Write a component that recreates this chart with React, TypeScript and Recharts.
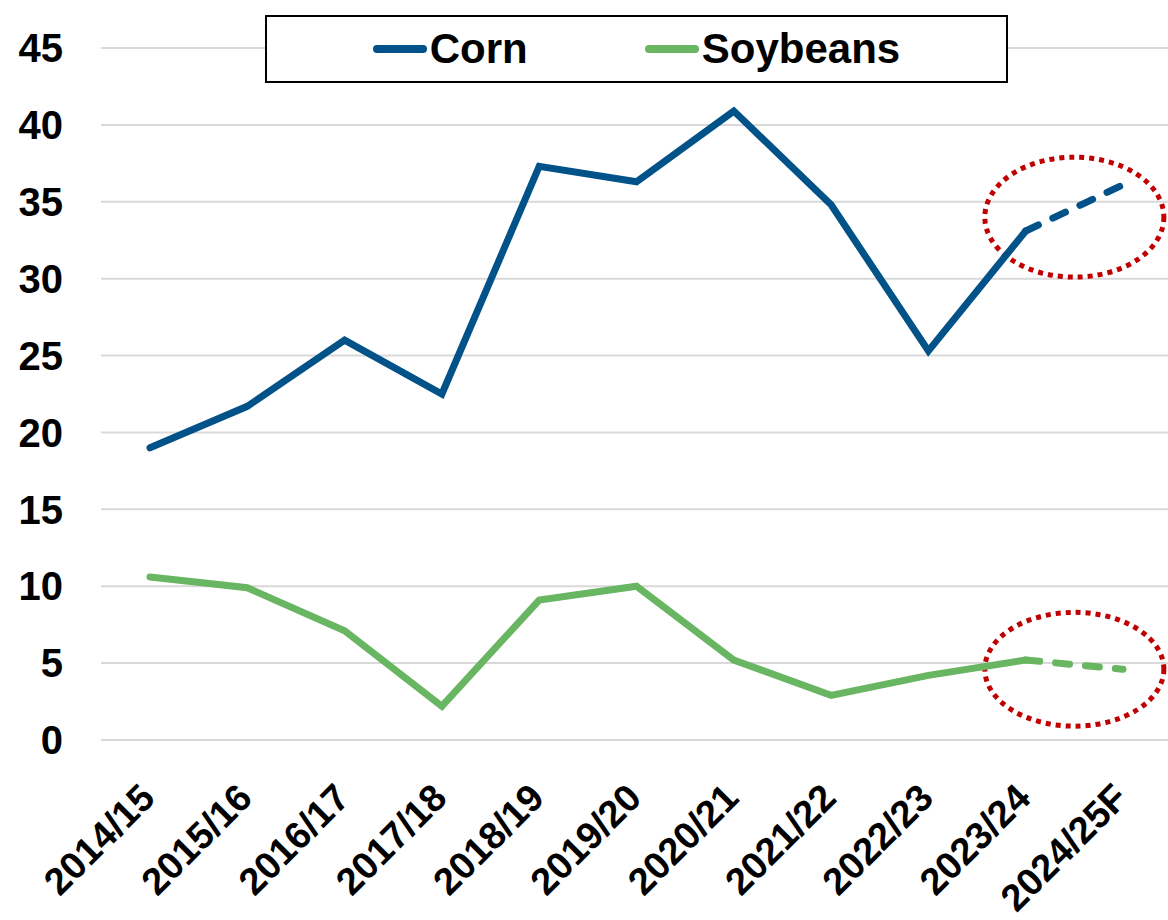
import React from 'react';
import { LineChart, Line, XAxis, YAxis, CartesianGrid, Legend, ReferenceArea } from 'recharts';

const seasons = [
  '2014/15', '2015/16', '2016/17', '2017/18', '2018/19', '2019/20',
  '2020/21', '2021/22', '2022/23', '2023/24', '2024/25F',
];

// reported values, last season is the forecast (dashed part)
const cornActual = [19.0, 21.7, 26.0, 22.5, 37.3, 36.3, 40.9, 34.8, 25.3, 33.1, null];
const cornForecast = [null, null, null, null, null, null, null, null, null, 33.1, 36.1];
const soyActual = [10.6, 9.9, 7.1, 2.2, 9.1, 10.0, 5.2, 2.9, 4.2, 5.2, null];
const soyForecast = [null, null, null, null, null, null, null, null, null, 5.2, 4.6];

const yTicks = [0, 5, 10, 15, 20, 25, 30, 35, 40, 45];

// highlighted forecast zones: [fromSeason, toSeason, yLow, yHigh]
const cornZone = ['2023/24', '2024/25F', 30.1, 37.9];
const soyZone = ['2023/24', '2024/25F', 0.9, 8.3];

const legendItems = [
  { name: 'Corn', color: '#005288' },
  { name: 'Soybeans', color: '#68b562' },
];

const data = seasons.map((season, i) => ({
  season,
  cornActual: cornActual[i],
  cornForecast: cornForecast[i],
  soyActual: soyActual[i],
  soyForecast: soyForecast[i],
}));

const FONT = '"Liberation Sans", Arial, sans-serif';

const SeasonTick = (props: any) => {
  const { x, y, payload } = props;
  return (
    <g transform={`translate(${x + 7},${y + 60}) rotate(-45)`}>
      <text x={0} y={0} textAnchor="end" fontFamily={FONT} fontWeight="bold" fontSize={38} fill="#000">
        {payload.value}
      </text>
    </g>
  );
};

const Ellipse = (props: any) => {
  const { x, y, width, height } = props;
  return (
    <ellipse
      cx={x + width / 2}
      cy={y + height / 2}
      rx={width * 0.92}
      ry={height / 2}
      fill="none"
      stroke="#c00000"
      strokeWidth={5}
      strokeDasharray="5 5"
    />
  );
};

const renderLegend = () => (
  <div
    style={{
      width: 743,
      height: 68,
      boxSizing: 'border-box',
      border: '2.5px solid #000',
      background: '#fff',
      display: 'flex',
      alignItems: 'center',
      justifyContent: 'center',
      gap: 117,
      fontFamily: FONT,
      fontWeight: 'bold',
      fontSize: 42,
      color: '#000',
    }}
  >
    {legendItems.map((item) => (
      <div key={item.name} style={{ display: 'flex', alignItems: 'center' }}>
        <span
          style={{
            display: 'inline-block',
            width: 54,
            height: 8,
            borderRadius: 4,
            background: item.color,
            marginRight: 3,
          }}
        />
        <span style={{ lineHeight: '48px' }}>{item.name}</span>
      </div>
    ))}
  </div>
);

export default function App() {
  return (
    <div style={{ position: 'absolute', left: 0, top: 0, width: 1168, height: 920, background: '#fff' }}>
      <LineChart width={1168} height={920} data={data} margin={{ top: 48, right: 0, bottom: 0, left: 0 }}>
        <CartesianGrid vertical={false} stroke="#d9d9d9" strokeWidth={2} />
        <XAxis
          dataKey="season"
          height={180}
          axisLine={false}
          tickLine={false}
          tickSize={0}
          tickMargin={0}
          padding={{ left: 49, right: 45 }}
          interval={0}
          tick={<SeasonTick />}
        />
        <YAxis
          width={101}
          domain={[0, 45]}
          ticks={yTicks}
          axisLine={false}
          tickLine={false}
          tickSize={0}
          tickMargin={38}
          tick={{ fontFamily: FONT, fontWeight: 'bold', fontSize: 40, fill: '#000' }}
        />
        <ReferenceArea
          x1={cornZone[0]}
          x2={cornZone[1]}
          y1={cornZone[2]}
          y2={cornZone[3]}
          shape={<Ellipse />}
        />
        <ReferenceArea
          x1={soyZone[0]}
          x2={soyZone[1]}
          y1={soyZone[2]}
          y2={soyZone[3]}
          shape={<Ellipse />}
        />
        <Line dataKey="cornActual" stroke="#005288" strokeWidth={7} dot={false} isAnimationActive={false} strokeLinecap="round" />
        <Line dataKey="cornForecast" stroke="#005288" strokeWidth={7} dot={false} isAnimationActive={false} strokeLinecap="round" strokeDasharray="14 16" />
        <Line dataKey="soyActual" stroke="#68b562" strokeWidth={7} dot={false} isAnimationActive={false} strokeLinecap="round" />
        <Line dataKey="soyForecast" stroke="#68b562" strokeWidth={7} dot={false} isAnimationActive={false} strokeLinecap="round" strokeDasharray="14 16" />
        <Legend
          layout="horizontal"
          verticalAlign="middle"
          align="center"
          content={renderLegend}
          wrapperStyle={{ position: 'absolute', top: 15, left: 265, width: 743, height: 68 }}
        />
      </LineChart>
    </div>
  );
}
